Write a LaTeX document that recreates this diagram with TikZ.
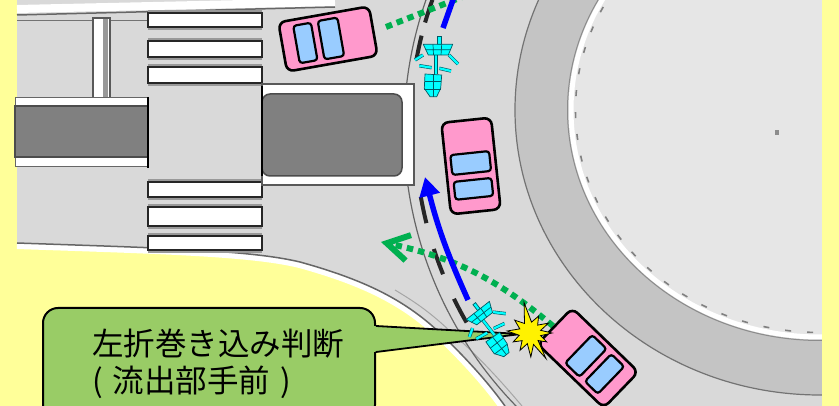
\documentclass[tikz,border=0pt]{standalone}
\usepackage{fontspec}
\newfontfamily\jpfont{Noto Sans CJK JP}
\usetikzlibrary{arrows.meta, calc}
\definecolor{bgyellow}{RGB}{255,255,153}
\definecolor{roadgray}{RGB}{217,217,217}
\definecolor{islegray}{RGB}{230,230,230}
\definecolor{apron}{RGB}{196,196,196}
\definecolor{median}{RGB}{128,128,128}
\definecolor{carpink}{RGB}{255,153,204}
\definecolor{glassblue}{RGB}{153,204,255}
\definecolor{notegreen}{RGB}{153,204,102}
\definecolor{pathgreen}{RGB}{0,176,80}
\definecolor{bikecyan}{RGB}{0,255,255}
\definecolor{bikeedge}{RGB}{0,90,100}

\tikzset{
	carbody/.style={fill=carpink, draw=black, line width=2.6pt, rounded corners=7pt},
	carglass/.style={fill=glassblue, draw=black, line width=2.2pt, rounded corners=3pt},
	bikepart/.style={fill=bikecyan, draw=bikeedge, line width=0.7pt},
	bikegrid/.style={draw=bikeedge, line width=0.7pt},
	bikebar/.style={draw=bikeedge, double=bikecyan, double distance=2.2pt, line width=0.6pt},
	car/.pic={
		\filldraw[carbody] (-46,-25) rectangle (46,25);
		\filldraw[carglass] (-13,-19.5) rectangle (7,19.5);
		\filldraw[carglass] (14,-19) rectangle (32,19);
	},
	cyclist/.pic={
		\filldraw[bikepart] (1.7,-28.3) rectangle (5,-20.7);
		\draw[bikebar] (-13,-10) -- (-21,-5);
		\draw[bikebar] (13,-10) -- (22,-1);
		\draw[bikebar] (0,-10) -- (0,9);
		\draw[bikebar] (-16.7,0.7) -- (-4.3,2.7);
		\draw[bikebar] (3.3,3.3) -- (15,6);
		\filldraw[bikepart] (-12.7,-20.7) -- (16.7,-20.7) -- (12.3,-10) -- (-7.7,-10) -- cycle;
		\draw[bikegrid] (-3,-20.7) -- (-2.5,-10) (5.7,-20.7) -- (5,-10) (-10.5,-15.3) -- (14.5,-15.3);
		\filldraw[bikepart] (-11,9) -- (5.7,10) -- (4.7,23.3) -- (0.7,31.7) -- (-6,31.7) -- (-11.7,23.3) -- cycle;
		\draw[bikegrid] (-2.7,9.5) -- (-2.7,31.7) (-11.5,16.7) -- (5.3,16.7) (-11.7,24) -- (4.7,24);
	},
}

\begin{document}
\begin{tikzpicture}[x=1pt, y=-1pt,
	trail/.style={draw=pathgreen, line width=6pt, dash pattern=on 6.5pt off 5pt},
	ride/.style={draw=blue, line width=5.5pt},
	zebra/.style={fill=white, draw=black!85, line width=1.5pt},
	yieldmark/.style={draw=black!85, line width=4pt},
	burst/.style={fill=yellow, draw=black, line width=0.8pt},
	notebox/.style={fill=notegreen, draw=black, line width=2pt, rounded corners=15pt,
		minimum width=332pt, minimum height=112pt, inner sep=0pt},
	notetext/.style={font=\jpfont\fontsize{31.5}{37}\selectfont, align=left, inner sep=0pt}]
	\useasboundingbox (0,0) rectangle (839,406);
	\clip (0,0) rectangle (839,406);
	\fill[bgyellow] (0,0) rectangle (839,406);

	% road surface and kerb on the lower left
	\draw[white, line width=12pt] (505,406) .. controls (490,385) and (470,362) .. (440,333) .. controls (405,300) and (365,280) .. (300,262) .. controls (250,250) and (160,248) .. (17,243);
	\fill[roadgray] (17,-5) -- (822,-5) -- (822,406) -- (505,406) .. controls (490,385) and (470,362) .. (440,333) .. controls (405,300) and (365,280) .. (300,262) .. controls (250,250) and (160,248) .. (17,243) -- cycle;
	\draw[black!60, line width=1.5pt] (505,406) .. controls (490,385) and (470,362) .. (440,333) .. controls (405,300) and (365,280) .. (300,262) .. controls (250,250) and (160,248) .. (17,243);
	\draw[black!35, line width=1pt] (522,406) .. controls (500,380) and (480,358) .. (452,333) .. controls (430,312) and (415,302) .. (395,290);

	% upper kerb
	\draw[white, line width=8pt] (17,9) -- (335,2);
	\draw[black!60, line width=1.5pt] (17,15) -- (335,7);
	\draw[black!55, line width=1pt] (17,21) -- (148,21);

	% roundabout: apron and central island
	\filldraw[fill=apron, draw=black!55, line width=1.2pt] (820,110) ellipse [x radius=305, y radius=285];
	\fill[islegray] (820,110) ellipse [x radius=247, y radius=225];
	\draw[black!45, line width=1pt] (820,110) ellipse [x radius=252.5, y radius=230.5];
	\draw[white, line width=5pt] (820,110) ellipse [x radius=249, y radius=227];
	\draw[black!50, line width=1.6pt, dash pattern=on 6pt off 16pt] (820,110) ellipse [x radius=244.5, y radius=222.5];
	\fill[black!45] (775,130) rectangle (779,135);

	% outer edge of the circulating lane
	\draw[black!60, line width=1.2pt] (800,130) ++(201:396) arc[start angle=201, end angle=134, radius=396];
	\foreach \a in {150,158,166}
		\draw[yieldmark] (800,130) ++(\a:385) arc[start angle=\a, end angle=\a+4, radius=385];
	\foreach \a in {190.5,196}
		\draw[yieldmark] (800,130) ++(\a:390) arc[start angle=\a, end angle=\a+3.5, radius=390];

	% approach road: post, medians, crossing
	\filldraw[fill=white, draw=black!65, line width=1.5pt] (93,18) rectangle (110,99);
	\fill[black!40] (103,19) rectangle (108,98);
	\filldraw[fill=white, draw=black!60, line width=1pt] (15,98) rectangle (148,167);
	\filldraw[fill=median, draw=black!70, line width=1.5pt] (15,106) rectangle (148,157);
	\draw[black, line width=2pt] (148,97) -- (148,168);
	\foreach \ya/\yb in {13/27, 41/57, 67/83, 182/197, 207/226, 236/250} {
		\fill[black!40] (148,\ya-3) rectangle (262,\yb+3);
		\filldraw[zebra] (148,\ya) rectangle (262,\yb);
	}
	\filldraw[fill=white, draw=black!65, line width=1.5pt] (262,84) rectangle (414,185);
	\filldraw[fill=median, draw=black!70, line width=1.5pt, rounded corners=8pt] (262,94) rectangle (402,176);
	\draw[black, line width=2pt] (262,86) -- (262,176);

	\fill[bgyellow] (822,0) rectangle (839,406);

	% paths of car and bicycle
	\coordinate (trailA0) at (386,27);
	\coordinate (trailA1) at (462,-3);
	\coordinate (trailB0) at (553,326);
	\coordinate (trailB1) at (381,242);
	\coordinate (rideA0) at (443,28);
	\coordinate (rideA1) at (454,-3);
	\coordinate (rideB0) at (468,300);
	\coordinate (rideB1) at (425,177);
	\draw[trail] (trailA0) -- (trailA1);
	\draw[trail, -{Straight Barb[length=22pt, width=26pt]}] (trailB0) to[bend right=14] (trailB1);
	\draw[ride] (rideA0) -- (rideA1);
	\draw[ride, -{Triangle[length=19pt, width=20pt]}] (rideB0) to[bend left=5] (rideB1);

	\pic[rotate=-170] (carA) at (328,39) {car};
	\pic[rotate=-84] (carB) at (471,166) {car};
	\pic[rotate=-44] (carC) at (588,358) {car};

	% callout
	\node[notebox] (note) at (209,364) {};
	\coordinate (hit) at (521,334);
	\fill[notegreen] ($(note.east)+(-3,-38)$) -- (hit) -- ($(note.east)+(-3,-12)$) -- cycle;
	\draw[black, line width=1.8pt] ($(note.east)+(0,-38)$) -- (hit) -- ($(note.east)+(0,-12)$);
	\node[notetext, anchor=west] (notelabel) at (92,364) {左折巻き込み判断\\(\hspace{3pt} 流出部手前 \hspace{3pt})};

	\pic (bikeA) at (436,65) {cyclist};
	\pic[rotate=38] (bikeB) at (489,328) {cyclist};

	\begin{scope}[shift={(530,333)}]
		\filldraw[burst] (259:31) -- (278:11) -- (297:19) -- (314:11) -- (332:21) -- (346:11) -- (0:22) -- (14:11) -- (28:19) -- (43:11)
			-- (58:30) -- (73:12) -- (88:24) -- (104:11) -- (120:20) -- (136:11) -- (152:19) -- (168:11) -- (185:23) -- (202:11)
			-- (220:20) -- (240:11) -- cycle;
	\end{scope}
\end{tikzpicture}
\end{document}
